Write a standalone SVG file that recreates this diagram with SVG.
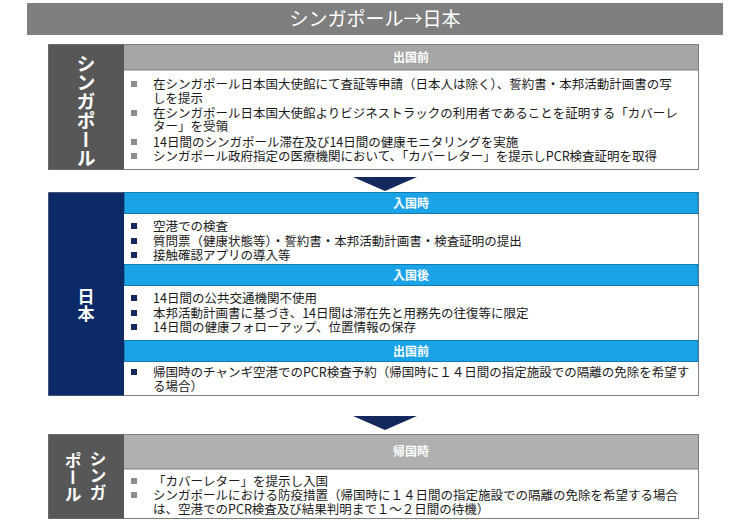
<svg xmlns="http://www.w3.org/2000/svg" width="750" height="527" viewBox="0 0 750 527">
<style>
.t{font-family:"Noto Sans CJK JP","Noto Sans CJK SC",sans-serif;font-size:12.5px;fill:#1a1a1a}
.h{font-family:"Noto Sans CJK JP",sans-serif;font-size:12px;font-weight:bold;fill:#fff;text-anchor:middle}
.lab{font-family:"Noto Sans CJK JP",sans-serif;fill:#fff;font-weight:bold}
.box{fill:#fff;stroke:#7f7f7f;stroke-width:1}
.gh{fill:#a6a6a6}
.bh{fill:#1aa3e6;stroke:#1679b0;stroke-width:1}
.gb{fill:#8c8c8c}
.nb{fill:#14285e}
.arr{fill:#14285e}
</style>
<rect width="750" height="527" fill="#fff"/>
<g id="title">
<rect x="27" y="3" width="696" height="32" fill="#7f7f7f"/>
<text x="375" y="26" font-family="'Noto Sans CJK JP',sans-serif" font-size="19" fill="#fff" text-anchor="middle">シンガポール→日本</text>
</g>
<g id="sec1">
<rect class="box" x="48.5" y="44.5" width="650" height="125"/>
<rect x="48.5" y="44.5" width="75.5" height="125" fill="#575757"/>
<rect class="gh" x="124" y="45" width="574" height="25"/>
<line x1="124" y1="70" x2="698" y2="70" stroke="#7f7f7f"/>
<text class="lab" x="86" y="111" font-size="19" writing-mode="vertical-rl" text-anchor="middle">シンガポール</text>
<text class="h" x="411" y="62">出国前</text>
<rect class="gb" x="131" y="81" width="6" height="6"/>
<rect class="gb" x="131" y="110" width="6" height="6"/>
<rect class="gb" x="131" y="139" width="6" height="6"/>
<rect class="gb" x="131" y="153" width="6" height="6"/>
<text class="t"><tspan x="153" y="88.5">在シンガポール日本国大使館にて査証等申請（日本人は除く）、誓約書・本邦活動計画書の写</tspan><tspan x="153" y="102.5">しを提示</tspan><tspan x="153" y="117.5">在シンガポール日本国大使館よりビジネストラックの利用者であることを証明する「カバーレ</tspan><tspan x="153" y="131">ター」を受領</tspan><tspan x="153" y="146.5">14日間のシンガポール滞在及び14日間の健康モニタリングを実施</tspan><tspan x="153" y="160.5">シンガポール政府指定の医療機関において、「カバーレター」を提示しPCR検査証明を取得</tspan></text>
</g>
<g id="connectors">
<polygon class="arr" points="353,177 417,177 385,191"/>
<polygon class="arr" points="353,416 417,416 385,430"/>
</g>
<g id="sec2">
<rect class="box" x="48.5" y="192.5" width="650" height="203"/>
<rect x="48.5" y="192.5" width="75.5" height="203" fill="#0d2a68"/>
<rect class="bh" x="124.5" y="192.5" width="573.5" height="21"/>
<rect class="bh" x="124.5" y="264.5" width="573.5" height="21"/>
<rect class="bh" x="124.5" y="340.5" width="573.5" height="21"/>
<text class="lab" x="86" y="305" font-size="17" writing-mode="vertical-rl" text-anchor="middle">日本</text>
<text class="h" x="411" y="207.5">入国時</text>
<text class="h" x="411" y="279.5">入国後</text>
<text class="h" x="411" y="355.5">出国前</text>
<rect class="nb" x="131" y="223" width="6" height="6"/>
<rect class="nb" x="131" y="238" width="6" height="6"/>
<rect class="nb" x="131" y="252" width="6" height="6"/>
<text class="t"><tspan x="153" y="231">空港での検査</tspan><tspan x="153" y="245.5">質問票（健康状態等）・誓約書・本邦活動計画書・検査証明の提出</tspan><tspan x="153" y="259.5">接触確認アプリの導入等</tspan></text>
<rect class="nb" x="131" y="295" width="6" height="6"/>
<rect class="nb" x="131" y="310" width="6" height="6"/>
<rect class="nb" x="131" y="324" width="6" height="6"/>
<text class="t"><tspan x="153" y="302.5">14日間の公共交通機関不使用</tspan><tspan x="153" y="317.5">本邦活動計画書に基づき、14日間は滞在先と用務先の往復等に限定</tspan><tspan x="153" y="331.5">14日間の健康フォローアップ、位置情報の保存</tspan></text>
<rect class="nb" x="131" y="369" width="6" height="6"/>
<text class="t"><tspan x="153" y="376.5">帰国時のチャンギ空港でのPCR検査予約（帰国時に１４日間の指定施設での隔離の免除を希望す</tspan><tspan x="153" y="391">る場合）</tspan></text>
</g>
<g id="sec3">
<rect class="box" x="48.5" y="434.5" width="650" height="84"/>
<rect x="48.5" y="434.5" width="75.5" height="84" fill="#575757"/>
<rect x="124" y="435" width="574" height="34" fill="#b0b0b0"/>
<line x1="124" y1="469" x2="698" y2="469" stroke="#7f7f7f"/>
<text class="lab" x="98" y="476" font-size="17" writing-mode="vertical-rl" text-anchor="middle">シンガ</text>
<text class="lab" x="73" y="478" font-size="17" writing-mode="vertical-rl" text-anchor="middle">ポール</text>
<text class="h" x="411" y="456">帰国時</text>
<rect class="gb" x="131" y="478" width="6" height="6"/>
<rect class="gb" x="131" y="492" width="6" height="6"/>
<text class="t"><tspan x="153" y="485.5">「カバーレター」を提示し入国</tspan><tspan x="153" y="499.5">シンガポールにおける防疫措置（帰国時に１４日間の指定施設での隔離の免除を希望する場合</tspan><tspan x="153" y="513.5">は、空港でのPCR検査及び結果判明まで１～２日間の待機）</tspan></text>
</g>
</svg>
